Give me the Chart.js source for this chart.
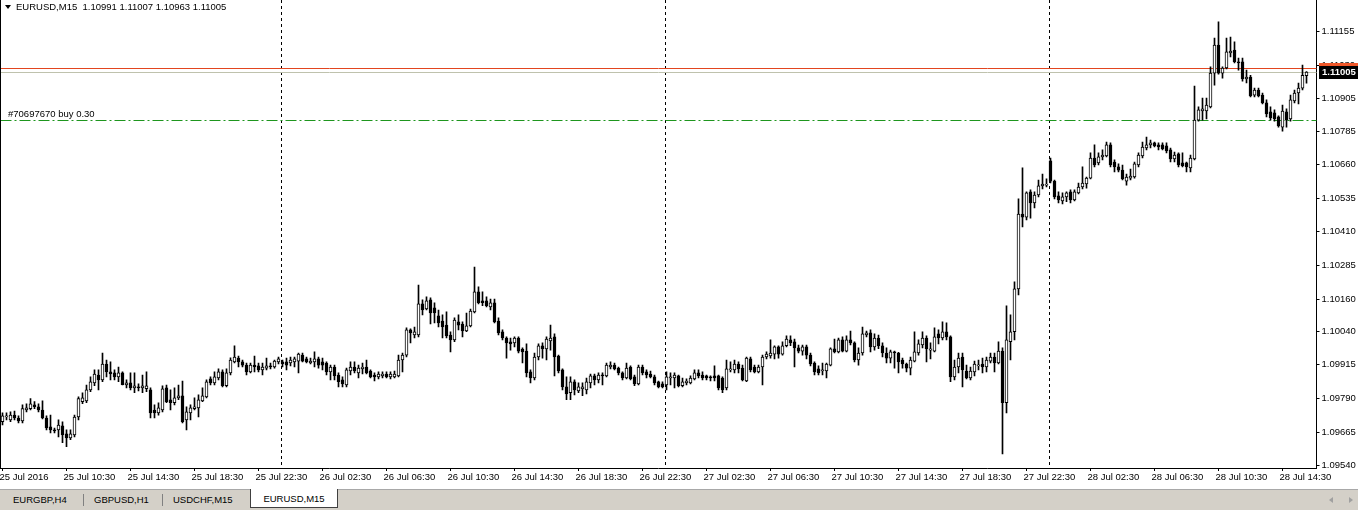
<!DOCTYPE html>
<html>
<head>
<meta charset="utf-8">
<script src="https://cdn.jsdelivr.net/npm/chart.js@4.4.1/dist/chart.umd.min.js"></script>
<style>
body { margin: 0; background: #fff; width: 1358px; height: 510px; overflow: hidden; font-family: "Liberation Sans", Arial, sans-serif; font-size: 9.5px; color: #000; }
#wrap { position: absolute; left: 0; top: 0; width: 1358px; height: 489px; }
#hdr { position: absolute; left: 16px; top: 1px; line-height: 12px; white-space: pre; }
#tri { position: absolute; left: 5px; top: 5px; width: 0; height: 0; border-left: 3px solid transparent; border-right: 3px solid transparent; border-top: 4px solid #000; }
#tabs { position: absolute; left: 0; top: 489px; width: 1358px; height: 20px; background: #d4d0c8; border-top: 1px solid #a8a8a8; }
.tab { position: absolute; top: 4px; line-height: 12px; }
.sep { position: absolute; top: 4px; width: 1px; height: 12px; background: #808080; }
.act { position: absolute; top: -1px; height: 18px; background: #fff; border: 1px solid #404040; border-top: none; text-align: center; line-height: 20px; }
.arr { position: absolute; top: 7px; width: 0; height: 0; border-top: 3px solid transparent; border-bottom: 3px solid transparent; }
</style>
</head>
<body>
<div id="wrap"><canvas id="c" width="1358" height="489"></canvas></div>
<div id="tri"></div>
<div id="hdr"></div>
<div id="tabs">
  <span class="tab" style="left:13px">EURGBP,H4</span>
  <span class="sep" style="left:83px"></span>
  <span class="tab" style="left:94px">GBPUSD,H1</span>
  <span class="sep" style="left:162px"></span>
  <span class="tab" style="left:173px">USDCHF,M15</span>
  <div class="act" style="left:250px;width:86px">EURUSD,M15</div>
  <span class="arr" style="left:1329px;border-right:4px solid #a0a0a0"></span>
  <span class="arr" style="left:1349px;border-left:4px solid #a0a0a0"></span>
</div>
<script>
// EURUSD M15, 25 Jul 2016 06:30 .. 28 Jul 2016 15:30
var symbolName = "EURUSD,M15";
var firstBarMinute = 6 * 60 + 30;
var barMinutes = 15;
var tickEvery = 16;
var emptyBarsRight = 2;

var xTickLabels = ["25 Jul 2016", "25 Jul 10:30", "25 Jul 14:30", "25 Jul 18:30", "25 Jul 22:30",
	"26 Jul 02:30", "26 Jul 06:30", "26 Jul 10:30", "26 Jul 14:30", "26 Jul 18:30", "26 Jul 22:30",
	"27 Jul 02:30", "27 Jul 06:30", "27 Jul 10:30", "27 Jul 14:30", "27 Jul 18:30", "27 Jul 22:30",
	"28 Jul 02:30", "28 Jul 06:30", "28 Jul 10:30", "28 Jul 14:30"];

var yTicks = [1.11155, 1.11030, 1.10905, 1.10785, 1.10660, 1.10535, 1.10410, 1.10285, 1.10160, 1.10040, 1.09915, 1.09790, 1.09665, 1.09540];
var priceMin = 1.09531;
var priceMax = 1.11273;

var bidPrice = 1.11005;
var askPrice = 1.11018;
var orderPrice = 1.10826;
var orderText = "#70697670 buy 0.30";

var opens = [
1.09703,1.09721,1.09710,1.09728,1.09717,1.09706,1.09747,1.09752,1.09766,1.09759,1.09747,1.09717,1.09684,1.09673,1.09673,1.09688,1.09658,1.09643,1.09654,1.09721,
1.09778,1.09781,1.09822,1.09848,1.09877,1.09859,1.09918,1.09889,1.09885,1.09870,1.09885,1.09840,1.09848,1.09829,1.09833,1.09829,1.09826,1.09822,1.09747,1.09736,
1.09747,1.09829,1.09785,1.09774,1.09792,1.09800,1.09710,1.09736,1.09752,1.09755,1.09781,1.09796,1.09863,1.09848,1.09866,1.09889,1.09837,1.09885,1.09926,1.09940,
1.09926,1.09914,1.09889,1.09914,1.09911,1.09896,1.09903,1.09911,1.09907,1.09926,1.09926,1.09926,1.09922,1.09926,1.09929,1.09951,1.09937,1.09922,1.09926,1.09937,
1.09926,1.09922,1.09889,1.09907,1.09877,1.09859,1.09840,1.09892,1.09907,1.09885,1.09900,1.09907,1.09892,1.09877,1.09870,1.09874,1.09881,1.09870,1.09870,1.09874,
1.09933,1.09951,1.10045,1.10026,1.10026,1.10142,1.10123,1.10157,1.10127,1.10097,1.10078,1.10063,1.10026,1.10008,1.10075,1.10067,1.10041,1.10060,1.10112,1.10187,
1.10153,1.10153,1.10131,1.10146,1.10078,1.10038,1.10015,1.10001,1.09997,1.10015,1.09974,1.09966,1.09889,1.09866,1.09944,1.09986,1.09974,1.10004,1.10019,1.09948,
1.09896,1.09833,1.09811,1.09852,1.09818,1.09826,1.09822,1.09848,1.09874,1.09859,1.09877,1.09874,1.09907,1.09914,1.09903,1.09885,1.09866,1.09907,1.09870,1.09844,
1.09907,1.09889,1.09881,1.09870,1.09852,1.09844,1.09840,1.09866,1.09866,1.09874,1.09837,1.09848,1.09848,1.09863,1.09885,1.09877,1.09874,1.09870,1.09874,1.09874,
1.09866,1.09829,1.09896,1.09896,1.09918,1.09903,1.09855,1.09937,1.09907,1.09889,1.09907,1.09944,1.09948,1.09955,1.09982,1.09955,1.09986,1.10008,1.10001,1.09978,
1.09966,1.09982,1.09951,1.09922,1.09900,1.09892,1.09892,1.09914,1.09975,1.09963,1.10008,1.09966,1.10008,1.09997,1.09933,1.09959,1.10026,1.10034,1.09982,1.10015,
1.09986,1.09959,1.09940,1.09963,1.09959,1.09933,1.09918,1.09903,1.09929,1.09959,1.09989,1.10015,1.09970,1.09966,1.10030,1.10015,1.10038,1.10019,1.09870,1.09907,
1.09944,1.09892,1.09866,1.09889,1.09911,1.09918,1.09907,1.09929,1.09944,1.09922,1.09966,1.09774,1.10001,1.10038,1.10198,1.10476,1.10465,1.10559,1.10518,1.10547,
1.10581,1.10584,1.10674,1.10599,1.10544,1.10525,1.10540,1.10559,1.10529,1.10555,1.10577,1.10588,1.10610,1.10685,1.10667,1.10689,1.10693,1.10734,1.10670,1.10652,
1.10640,1.10599,1.10610,1.10614,1.10659,1.10693,1.10722,1.10734,1.10741,1.10734,1.10734,1.10730,1.10715,1.10681,1.10700,1.10667,1.10667,1.10648,1.10681,1.10826,
1.10860,1.10860,1.10875,1.11001,1.11105,1.11001,1.11020,1.11076,1.11087,1.11043,1.11043,1.10979,1.10986,1.10919,1.10938,1.10919,1.10890,1.10857,1.10853,1.10838,
1.10800,1.10857,1.10830,1.10897,1.10927,1.10945,1.10991];

var highs = [
1.09736,1.09736,1.09740,1.09743,1.09725,1.09766,1.09770,1.09789,1.09778,1.09770,1.09781,1.09725,1.09728,1.09680,1.09710,1.09703,1.09673,1.09673,1.09728,1.09796,
1.09811,1.09840,1.09870,1.09896,1.09896,1.09959,1.09933,1.09926,1.09896,1.09907,1.09889,1.09859,1.09885,1.09885,1.09844,1.09877,1.09889,1.09829,1.09766,1.09774,
1.09837,1.09840,1.09822,1.09829,1.09840,1.09855,1.09759,1.09766,1.09792,1.09803,1.09829,1.09859,1.09870,1.09889,1.09900,1.09896,1.09900,1.09941,1.09986,1.09948,
1.09933,1.09922,1.09922,1.09948,1.09922,1.09922,1.09940,1.09922,1.09933,1.09944,1.09933,1.09940,1.09944,1.09944,1.09959,1.09959,1.09944,1.09940,1.09963,1.09944,
1.09940,1.09926,1.09914,1.09914,1.09885,1.09870,1.09903,1.09926,1.09926,1.09914,1.09922,1.09933,1.09896,1.09885,1.09889,1.09889,1.09889,1.09889,1.09892,1.09951,
1.09959,1.10053,1.10049,1.10056,1.10212,1.10157,1.10168,1.10164,1.10146,1.10119,1.10101,1.10112,1.10038,1.10090,1.10101,1.10075,1.10108,1.10123,1.10279,1.10205,
1.10187,1.10168,1.10160,1.10160,1.10090,1.10045,1.10019,1.10015,1.10019,1.10019,1.09978,1.09993,1.09896,1.09959,1.09993,1.09997,1.10019,1.10063,1.10030,1.09951,
1.09900,1.09870,1.09870,1.09859,1.09848,1.09848,1.09866,1.09881,1.09881,1.09885,1.09885,1.09922,1.09926,1.09922,1.09907,1.09889,1.09922,1.09911,1.09877,1.09914,
1.09914,1.09896,1.09892,1.09877,1.09855,1.09852,1.09889,1.09885,1.09885,1.09877,1.09866,1.09863,1.09874,1.09896,1.09896,1.09889,1.09877,1.09874,1.09911,1.09877,
1.09870,1.09933,1.09926,1.09933,1.09926,1.09914,1.09944,1.09944,1.09914,1.09914,1.09951,1.09963,1.10008,1.09986,1.09986,1.10001,1.10023,1.10023,1.10011,1.09989,
1.09989,1.09989,1.09959,1.09926,1.09911,1.09922,1.09922,1.09978,1.10011,1.10015,1.10019,1.10023,1.10041,1.10001,1.09978,1.10056,1.10041,1.10045,1.10030,1.10026,
1.09997,1.09978,1.09970,1.09966,1.09962,1.09940,1.09922,1.09944,1.10038,1.10008,1.10038,1.10023,1.09997,1.10053,1.10045,1.10075,1.10071,1.10023,1.09933,1.09959,
1.09959,1.09914,1.09907,1.09929,1.09933,1.09940,1.09944,1.09959,1.09959,1.10001,1.09978,1.10135,1.10101,1.10224,1.10533,1.10648,1.10559,1.10566,1.10559,1.10603,
1.10625,1.10607,1.10685,1.10603,1.10559,1.10555,1.10559,1.10566,1.10566,1.10592,1.10652,1.10614,1.10704,1.10734,1.10704,1.10715,1.10744,1.10741,1.10678,1.10663,
1.10659,1.10625,1.10644,1.10670,1.10704,1.10744,1.10763,1.10752,1.10744,1.10741,1.10741,1.10741,1.10722,1.10707,1.10704,1.10704,1.10670,1.10696,1.10953,1.10875,
1.10908,1.10908,1.11024,1.11131,1.11192,1.11024,1.11131,1.11135,1.11117,1.11057,1.11057,1.11012,1.10993,1.10945,1.10945,1.10927,1.10901,1.10875,1.10864,1.10842,
1.10882,1.10868,1.10919,1.10938,1.10964,1.11031,1.11007];

var lows = [
1.09691,1.09710,1.09703,1.09710,1.09699,1.09699,1.09740,1.09747,1.09752,1.09740,1.09714,1.09673,1.09662,1.09662,1.09647,1.09625,1.09610,1.09636,1.09647,1.09710,
1.09770,1.09774,1.09815,1.09837,1.09822,1.09852,1.09870,1.09859,1.09859,1.09852,1.09840,1.09829,1.09822,1.09811,1.09818,1.09811,1.09815,1.09717,1.09717,1.09728,
1.09740,1.09774,1.09747,1.09766,1.09785,1.09699,1.09673,1.09710,1.09747,1.09721,1.09778,1.09792,1.09840,1.09840,1.09859,1.09833,1.09833,1.09877,1.09922,1.09907,
1.09907,1.09877,1.09885,1.09889,1.09889,1.09877,1.09896,1.09900,1.09903,1.09918,1.09907,1.09896,1.09911,1.09907,1.09885,1.09926,1.09922,1.09918,1.09907,1.09903,
1.09896,1.09877,1.09859,1.09859,1.09833,1.09833,1.09833,1.09877,1.09885,1.09866,1.09881,1.09881,1.09866,1.09855,1.09863,1.09866,1.09866,1.09863,1.09866,1.09870,
1.09889,1.09944,1.09997,1.10015,1.10019,1.10101,1.10119,1.10067,1.10071,1.10056,1.10015,1.10015,1.09963,1.10001,1.10045,1.10019,1.10038,1.10056,1.10108,1.10142,
1.10135,1.10131,1.10119,1.10071,1.10026,1.10008,1.09940,1.09970,1.09982,1.09959,1.09922,1.09870,1.09848,1.09859,1.09933,1.09940,1.09933,1.09970,1.09874,1.09885,
1.09822,1.09785,1.09785,1.09803,1.09811,1.09800,1.09807,1.09829,1.09840,1.09848,1.09840,1.09870,1.09900,1.09896,1.09877,1.09859,1.09863,1.09859,1.09837,1.09840,
1.09877,1.09866,1.09866,1.09840,1.09829,1.09829,1.09822,1.09840,1.09829,1.09833,1.09833,1.09840,1.09844,1.09859,1.09866,1.09859,1.09859,1.09855,1.09855,1.09822,
1.09811,1.09822,1.09889,1.09885,1.09885,1.09855,1.09852,1.09889,1.09885,1.09885,1.09840,1.09937,1.09940,1.09937,1.09940,1.09951,1.09982,1.09986,1.09907,1.09959,
1.09951,1.09937,1.09911,1.09877,1.09877,1.09877,1.09866,1.09911,1.09959,1.09959,1.09963,1.09963,1.09989,1.09926,1.09914,1.09951,1.10019,1.09963,1.09970,1.09975,
1.09944,1.09922,1.09922,1.09903,1.09885,1.09903,1.09889,1.09877,1.09926,1.09951,1.09978,1.09926,1.09937,1.09963,1.09993,1.10008,1.10008,1.09852,1.09859,1.09885,
1.09833,1.09863,1.09859,1.09874,1.09896,1.09885,1.09889,1.09922,1.09889,1.09918,1.09583,1.09736,1.09933,1.10008,1.10175,1.10428,1.10454,1.10461,1.10499,1.10540,
1.10570,1.10577,1.10592,1.10533,1.10518,1.10514,1.10522,1.10518,1.10525,1.10551,1.10570,1.10573,1.10607,1.10652,1.10659,1.10678,1.10689,1.10652,1.10633,1.10633,
1.10603,1.10584,1.10603,1.10610,1.10652,1.10685,1.10715,1.10722,1.10726,1.10715,1.10715,1.10704,1.10670,1.10670,1.10652,1.10652,1.10633,1.10633,1.10678,1.10822,
1.10826,1.10830,1.10871,1.10956,1.10997,1.10982,1.11016,1.11061,1.11039,1.11012,1.10971,1.10964,1.10912,1.10912,1.10912,1.10886,1.10838,1.10826,1.10822,1.10800,
1.10785,1.10800,1.10822,1.10890,1.10886,1.10938,1.10963];

var closes = [
1.09725,1.09725,1.09728,1.09717,1.09706,1.09752,1.09755,1.09770,1.09759,1.09747,1.09717,1.09680,1.09673,1.09669,1.09691,1.09654,1.09643,1.09658,1.09721,1.09789,
1.09792,1.09822,1.09852,1.09881,1.09859,1.09918,1.09889,1.09881,1.09870,1.09885,1.09841,1.09848,1.09829,1.09837,1.09829,1.09837,1.09837,1.09736,1.09736,1.09755,
1.09826,1.09778,1.09774,1.09792,1.09800,1.09703,1.09740,1.09755,1.09759,1.09785,1.09800,1.09852,1.09848,1.09870,1.09889,1.09837,1.09885,1.09933,1.09944,1.09926,
1.09914,1.09889,1.09914,1.09907,1.09896,1.09907,1.09911,1.09907,1.09929,1.09937,1.09918,1.09914,1.09933,1.09937,1.09955,1.09929,1.09926,1.09929,1.09937,1.09914,
1.09914,1.09889,1.09907,1.09874,1.09852,1.09844,1.09896,1.09907,1.09892,1.09903,1.09907,1.09885,1.09870,1.09870,1.09881,1.09881,1.09870,1.09881,1.09881,1.09933,
1.09951,1.10045,1.10034,1.10038,1.10142,1.10119,1.10153,1.10108,1.10108,1.10071,1.10056,1.10023,1.10008,1.10082,1.10063,1.10041,1.10060,1.10115,1.10187,1.10146,
1.10146,1.10135,1.10146,1.10075,1.10034,1.10015,1.09997,1.09993,1.10015,1.09966,1.09963,1.09885,1.09866,1.09944,1.09986,1.09974,1.10011,1.10015,1.09944,1.09892,
1.09833,1.09807,1.09852,1.09822,1.09833,1.09833,1.09852,1.09874,1.09859,1.09877,1.09874,1.09914,1.09914,1.09900,1.09885,1.09866,1.09903,1.09863,1.09844,1.09907,
1.09885,1.09877,1.09870,1.09848,1.09833,1.09833,1.09870,1.09870,1.09877,1.09837,1.09852,1.09855,1.09866,1.09885,1.09874,1.09866,1.09866,1.09866,1.09866,1.09829,
1.09822,1.09900,1.09900,1.09918,1.09900,1.09859,1.09940,1.09896,1.09889,1.09907,1.09944,1.09955,1.09959,1.09982,1.09955,1.09986,1.10011,1.09997,1.09978,1.09966,
1.09982,1.09951,1.09918,1.09889,1.09885,1.09896,1.09918,1.09975,1.09963,1.10008,1.09966,1.10008,1.09997,1.09933,1.09959,1.10030,1.10034,1.09982,1.10015,1.09986,
1.09959,1.09940,1.09963,1.09959,1.09926,1.09918,1.09903,1.09933,1.09963,1.09993,1.10015,1.09975,1.09975,1.10019,1.10015,1.10038,1.10019,1.09870,1.09907,1.09940,
1.09896,1.09866,1.09892,1.09918,1.09914,1.09907,1.09933,1.09944,1.09922,1.09966,1.09774,1.10008,1.10038,1.10198,1.10476,1.10465,1.10555,1.10518,1.10547,1.10581,
1.10588,1.10588,1.10599,1.10540,1.10529,1.10540,1.10555,1.10529,1.10559,1.10577,1.10592,1.10610,1.10685,1.10659,1.10689,1.10696,1.10734,1.10659,1.10652,1.10640,
1.10607,1.10614,1.10618,1.10663,1.10696,1.10726,1.10734,1.10741,1.10730,1.10726,1.10719,1.10711,1.10681,1.10696,1.10659,1.10656,1.10652,1.10685,1.10826,1.10864,
1.10868,1.10882,1.11001,1.11105,1.11001,1.11020,1.11080,1.11083,1.11043,1.11039,1.10979,1.10986,1.10916,1.10938,1.10916,1.10890,1.10849,1.10834,1.10831,1.10804,
1.10860,1.10826,1.10901,1.10927,1.10945,1.10993,1.11005];

var fontFamily = '"Liberation Sans", Arial, sans-serif';
var last = opens.length - 1;

document.getElementById("hdr").textContent = symbolName + "  " + opens[last].toFixed(5) + " " +
	highs[last].toFixed(5) + " " + lows[last].toFixed(5) + " " + closes[last].toFixed(5);

// one category per bar, plus the chart shift on the right
var labels = [];
for (var i = 0; i < opens.length + emptyBarsRight; i++) {
	labels.push(i);
}

var bodies = [];
var wicks = [];
var bodyColors = [];
for (var i = 0; i < opens.length; i++) {
	bodies.push([opens[i], closes[i]]);
	wicks.push([lows[i], highs[i]]);
	bodyColors.push(closes[i] >= opens[i] ? "#ffffff" : "#000000");
}

function crisp(v) {
	return Math.floor(v) + 0.5;
}

var mtOverlay = {
	id: "mtOverlay",
	beforeDatasetsDraw: function(chart) {
		var ctx = chart.ctx;
		var a = chart.chartArea;
		var x = chart.scales.x;
		var y = chart.scales.y;
		ctx.save();
		ctx.lineWidth = 1;

		//day separators
		ctx.strokeStyle = "#000";
		ctx.setLineDash([3, 3]);
		for (var i = 1; i < opens.length; i++) {
			if ((firstBarMinute + i * barMinutes) % 1440 === 0) {
				var px = x.getPixelForValue(i) - 1;
				ctx.beginPath();
				ctx.moveTo(px, a.top);
				ctx.lineTo(px, a.bottom);
				ctx.stroke();
			}
		}

		//order line
		ctx.strokeStyle = "#1e961e";
		ctx.setLineDash([11, 3, 2, 3]);
		var oy = crisp(y.getPixelForValue(orderPrice));
		ctx.beginPath();
		ctx.moveTo(a.left, oy);
		ctx.lineTo(a.right, oy);
		ctx.stroke();

		//bid and ask
		ctx.setLineDash([]);
		ctx.strokeStyle = "#e2451f";
		var ay = crisp(y.getPixelForValue(askPrice));
		ctx.beginPath();
		ctx.moveTo(a.left, ay);
		ctx.lineTo(a.right, ay);
		ctx.stroke();
		ctx.strokeStyle = "#bfc2ad";
		var by = crisp(y.getPixelForValue(bidPrice));
		ctx.beginPath();
		ctx.moveTo(a.left, by);
		ctx.lineTo(a.right, by);
		ctx.stroke();
		ctx.restore();
	},
	afterDraw: function(chart) {
		var ctx = chart.ctx;
		var a = chart.chartArea;
		var y = chart.scales.y;
		ctx.save();

		ctx.fillStyle = "#000";
		ctx.fillRect(0, a.top, 1, a.bottom - a.top);

		ctx.font = "9.5px " + fontFamily;
		ctx.textBaseline = "bottom";
		ctx.fillText(orderText, 8, crisp(y.getPixelForValue(orderPrice)) - 1.5);

		//price labels on the axis
		var boxLeft = Math.round(a.right) + 2;
		var boxW = chart.width - boxLeft;
		var ay = y.getPixelForValue(askPrice);
		ctx.fillStyle = "#f0582a";
		ctx.fillRect(boxLeft, Math.round(ay) - 6, boxW, 13);
		ctx.fillStyle = "#fff";
		ctx.textBaseline = "middle";
		ctx.font = "bold 9.5px " + fontFamily;
		ctx.fillText(askPrice.toFixed(5), boxLeft + 3, Math.round(ay) + 0.5);

		var by = y.getPixelForValue(bidPrice);
		ctx.fillStyle = "#000";
		ctx.fillRect(boxLeft, Math.round(by) - 6, boxW, 13);
		ctx.fillStyle = "#fff";
		ctx.fillText(bidPrice.toFixed(5), boxLeft + 3, Math.round(by) + 0.5);
		ctx.restore();
	}
};

var ctx = document.getElementById("c").getContext("2d");
var chart = new Chart(ctx, {
	type: "bar",
	data: {
		labels: labels,
		datasets: [{
			label: "body",
			data: bodies,
			backgroundColor: bodyColors,
			borderColor: "#000",
			borderWidth: 1,
			borderSkipped: false,
			barThickness: 3,
			minBarLength: 1,
			grouped: false,
			order: 1
		}, {
			label: "wick",
			data: wicks,
			backgroundColor: "#000",
			borderWidth: 0,
			barThickness: 1,
			grouped: false,
			order: 2
		}]
	},
	options: {
		responsive: false,
		animation: false,
		devicePixelRatio: 1,
		layout: { padding: { left: 0.5, top: 0, right: 0, bottom: 0 } },
		plugins: {
			legend: { display: false },
			tooltip: { enabled: false }
		},
		scales: {
			x: {
				type: "category",
				offset: true,
				grid: { display: true, drawOnChartArea: false, drawTicks: true, tickLength: 3, color: "#000", offset: false },
				border: { display: true, color: "#000" },
				ticks: {
					autoSkip: false, maxRotation: 0, minRotation: 0, align: "start", padding: 1, labelOffset: -3,
					color: "#000", font: { family: fontFamily, size: 9.5 },
					callback: function(v) { return xTickLabels[v / tickEvery]; }
				},
				afterBuildTicks: function(s) {
					s.ticks = s.ticks.filter(function(t) { return t.value % tickEvery === 0 && t.value < opens.length; });
				},
				afterFit: function(s) {
					s.height = 21;
					s.paddingLeft = 0;
					s.paddingRight = 0;
				}
			},
			y: {
				position: "right",
				min: priceMin,
				max: priceMax,
				bounds: "data",
				grid: { drawOnChartArea: false, tickLength: 3, color: "#000" },
				border: { display: true, color: "#000" },
				ticks: {
					padding: 2, color: "#000", font: { family: fontFamily, size: 9.5 },
					callback: function(v) { return v.toFixed(5); }
				},
				afterBuildTicks: function(s) {
					s.ticks = yTicks.map(function(v) { return { value: v }; });
				},
				afterFit: function(s) {
					s.width = 41.5;
					s.paddingTop = 0;
					s.paddingBottom = 0;
				}
			}
		}
	},
	plugins: [mtOverlay]
});
</script>
</body>
</html>
